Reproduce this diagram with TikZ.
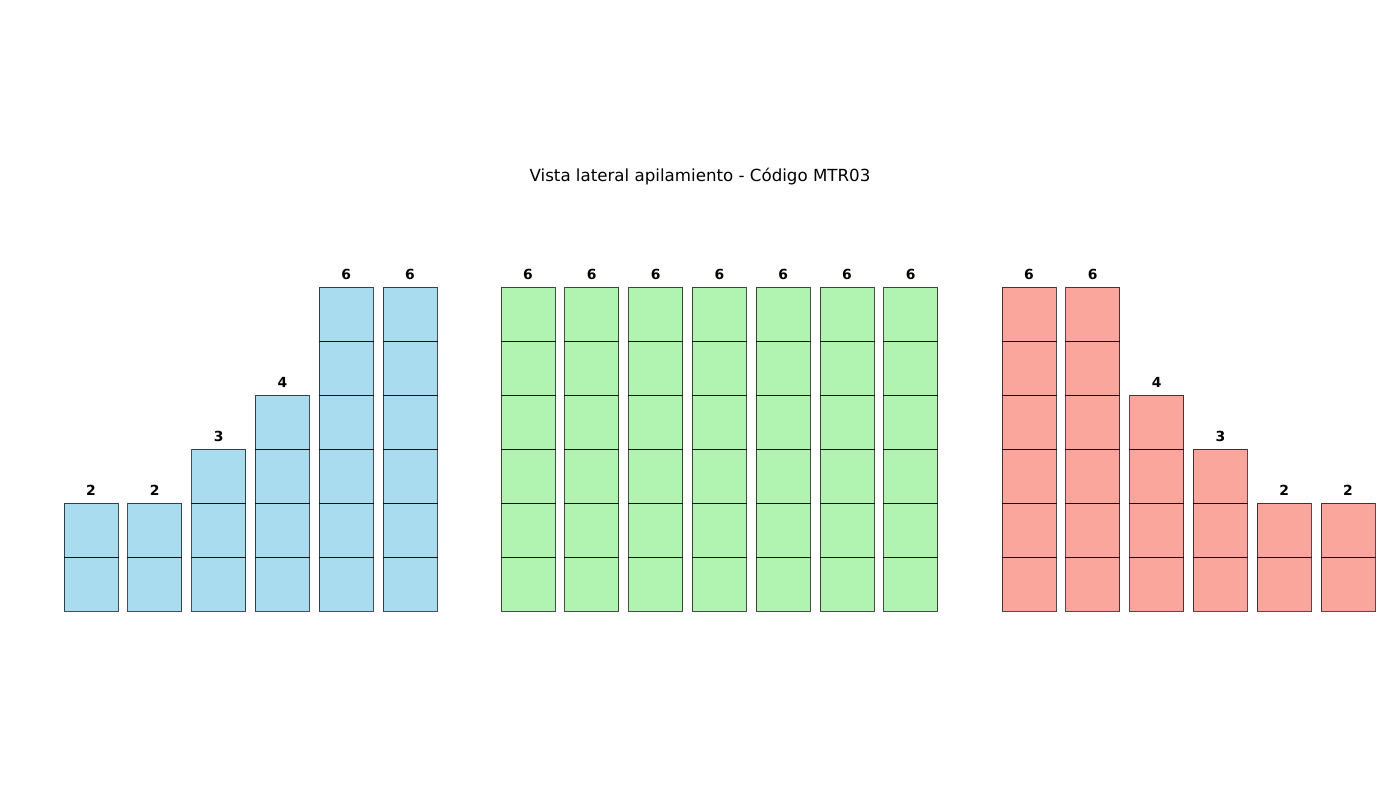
\documentclass[tikz,border=0pt]{standalone}
\usepackage{fontspec}
\setmainfont{DejaVu Sans}
\usetikzlibrary{positioning}
\definecolor{skyfill}{HTML}{AADCF0}
\definecolor{greenfill}{HTML}{B1F3B1}
\definecolor{salmonfill}{HTML}{FBA69C}
\tikzset{
    crate/.style = {draw=black, draw opacity=0.7, rectangle, line width=0.7pt,
        inner sep=0pt, minimum width=38.88pt, minimum height=38.88pt},
    stackcount/.style = {font=\fontsize{10}{12}\selectfont\bfseries, inner sep=2pt},
    heading/.style = {font=\fontsize{12}{14}\selectfont}
}

\begin{document}
\begin{tikzpicture}[x=0.72pt, y=-0.72pt]
    \useasboundingbox (0,0) rectangle (1400,800);
    \node [heading] (title) at (700,177) {Vista lateral apilamiento - Código MTR03};
    % three groups of stacks
    \foreach \grp/\xo/\col/\list in {blue/64/skyfill/{2,2,3,4,6,6},
                                     green/501/greenfill/{6,6,6,6,6,6,6},
                                     red/1002/salmonfill/{6,6,4,3,2,2}} {
        \foreach \h [count=\k from 0] in \list {
            \foreach \r in {1,...,\h}
                \node [crate, fill=\col] (\grp-\k-\r) at ({\xo+27+63.8*\k}, {584-54*(\r-1)}) {};
            \node [stackcount, above=2.6pt of \grp-\k-\h] (\grp-\k-n) {\h};
        }
    }
\end{tikzpicture}
\end{document}
